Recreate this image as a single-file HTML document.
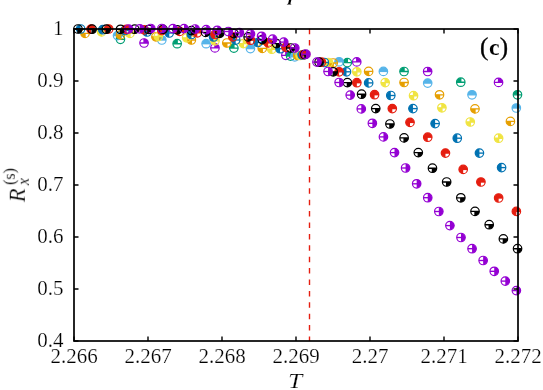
<!DOCTYPE html>
<html><head><meta charset="utf-8"><title>chart</title>
<style>
html,body{margin:0;padding:0;background:#fff;}
svg{display:block}
text{font-family:"Liberation Serif",serif;font-size:21px;fill:#000;stroke:#fff;stroke-width:0.22px}
</style></head><body>
<svg width="543" height="390" viewBox="0 0 543 390">
<rect width="543" height="390" fill="#fff"/>
<path d="M289.2 -1 L288.2 3.6 L286.6 4.4 L291.6 4.4 L290.4 3.6 L291.6 -1Z" fill="#000"/>
<line x1="309.5" y1="28.7" x2="309.5" y2="341.0" stroke="#e51e10" stroke-width="1.4" stroke-dasharray="5.5 5.9"/>
<g stroke="#9400d3" fill="none"><path d="M144.05 43.00L148.30 43.00A4.25 4.25 0 0 0 144.05 38.75Z" fill="#9400d3" stroke="none"/><circle cx="144.05" cy="43.00" r="4.25" stroke-width="1.2"/><path d="M139.80 43.00H148.30M144.05 43.00V38.75" stroke-width="1.35"/></g>
<g stroke="#9400d3" fill="none"><path d="M214.95 47.90L219.20 47.90A4.25 4.25 0 0 0 214.95 43.65Z" fill="#9400d3" stroke="none"/><circle cx="214.95" cy="47.90" r="4.25" stroke-width="1.2"/><path d="M210.70 47.90H219.20M214.95 47.90V43.65" stroke-width="1.35"/></g>
<g stroke="#9400d3" fill="none"><path d="M285.85 55.30L290.10 55.30A4.25 4.25 0 0 0 285.85 51.05Z" fill="#9400d3" stroke="none"/><circle cx="285.85" cy="55.30" r="4.25" stroke-width="1.2"/><path d="M281.60 55.30H290.10M285.85 55.30V51.05" stroke-width="1.35"/></g>
<g stroke="#9400d3" fill="none"><path d="M356.75 61.90L361.00 61.90A4.25 4.25 0 0 0 356.75 57.65Z" fill="#9400d3" stroke="none"/><circle cx="356.75" cy="61.90" r="4.25" stroke-width="1.2"/><path d="M352.50 61.90H361.00M356.75 61.90V57.65" stroke-width="1.35"/></g>
<g stroke="#9400d3" fill="none"><path d="M427.65 71.50L431.90 71.50A4.25 4.25 0 0 0 427.65 67.25Z" fill="#9400d3" stroke="none"/><circle cx="427.65" cy="71.50" r="4.25" stroke-width="1.2"/><path d="M423.40 71.50H431.90M427.65 71.50V67.25" stroke-width="1.35"/></g>
<g stroke="#9400d3" fill="none"><path d="M498.55 82.40L502.80 82.40A4.25 4.25 0 0 0 498.55 78.15Z" fill="#9400d3" stroke="none"/><circle cx="498.55" cy="82.40" r="4.25" stroke-width="1.2"/><path d="M494.30 82.40H502.80M498.55 82.40V78.15" stroke-width="1.35"/></g>
<g stroke="#009e73" fill="none"><path d="M120.44 39.30L120.44 35.05A4.25 4.25 0 0 0 116.19 39.30Z" fill="#009e73" stroke="none"/><circle cx="120.44" cy="39.30" r="4.25" stroke-width="1.2"/><path d="M116.19 39.30H124.69M120.44 39.30V35.05" stroke-width="1.35"/></g>
<g stroke="#009e73" fill="none"><path d="M177.16 43.70L177.16 39.45A4.25 4.25 0 0 0 172.91 43.70Z" fill="#009e73" stroke="none"/><circle cx="177.16" cy="43.70" r="4.25" stroke-width="1.2"/><path d="M172.91 43.70H181.41M177.16 43.70V39.45" stroke-width="1.35"/></g>
<g stroke="#009e73" fill="none"><path d="M233.88 48.10L233.88 43.85A4.25 4.25 0 0 0 229.63 48.10Z" fill="#009e73" stroke="none"/><circle cx="233.88" cy="48.10" r="4.25" stroke-width="1.2"/><path d="M229.63 48.10H238.13M233.88 48.10V43.85" stroke-width="1.35"/></g>
<g stroke="#009e73" fill="none"><path d="M290.60 56.10L290.60 51.85A4.25 4.25 0 0 0 286.35 56.10Z" fill="#009e73" stroke="none"/><circle cx="290.60" cy="56.10" r="4.25" stroke-width="1.2"/><path d="M286.35 56.10H294.85M290.60 56.10V51.85" stroke-width="1.35"/></g>
<g stroke="#009e73" fill="none"><path d="M347.32 62.60L347.32 58.35A4.25 4.25 0 0 0 343.07 62.60Z" fill="#009e73" stroke="none"/><circle cx="347.32" cy="62.60" r="4.25" stroke-width="1.2"/><path d="M343.07 62.60H351.57M347.32 62.60V58.35" stroke-width="1.35"/></g>
<g stroke="#009e73" fill="none"><path d="M404.04 71.50L404.04 67.25A4.25 4.25 0 0 0 399.79 71.50Z" fill="#009e73" stroke="none"/><circle cx="404.04" cy="71.50" r="4.25" stroke-width="1.2"/><path d="M399.79 71.50H408.29M404.04 71.50V67.25" stroke-width="1.35"/></g>
<g stroke="#009e73" fill="none"><path d="M460.76 82.20L460.76 77.95A4.25 4.25 0 0 0 456.51 82.20Z" fill="#009e73" stroke="none"/><circle cx="460.76" cy="82.20" r="4.25" stroke-width="1.2"/><path d="M456.51 82.20H465.01M460.76 82.20V77.95" stroke-width="1.35"/></g>
<g stroke="#009e73" fill="none"><path d="M517.48 94.80L517.48 90.55A4.25 4.25 0 0 0 513.23 94.80Z" fill="#009e73" stroke="none"/><circle cx="517.48" cy="94.80" r="4.25" stroke-width="1.2"/><path d="M513.23 94.80H521.73M517.48 94.80V90.55" stroke-width="1.35"/></g>
<g stroke="#56b4e9" fill="none"><path d="M117.51 35.60L121.76 35.60A4.25 4.25 0 0 0 117.51 31.35ZM117.51 35.60L117.51 31.35A4.25 4.25 0 0 0 113.26 35.60Z" fill="#56b4e9" stroke="none"/><circle cx="117.51" cy="35.60" r="4.25" stroke-width="1.2"/><path d="M113.26 35.60H121.76" stroke-width="1.35"/></g>
<g stroke="#56b4e9" fill="none"><path d="M161.82 40.00L166.07 40.00A4.25 4.25 0 0 0 161.82 35.75ZM161.82 40.00L161.82 35.75A4.25 4.25 0 0 0 157.57 40.00Z" fill="#56b4e9" stroke="none"/><circle cx="161.82" cy="40.00" r="4.25" stroke-width="1.2"/><path d="M157.57 40.00H166.07" stroke-width="1.35"/></g>
<g stroke="#56b4e9" fill="none"><path d="M206.13 43.70L210.38 43.70A4.25 4.25 0 0 0 206.13 39.45ZM206.13 43.70L206.13 39.45A4.25 4.25 0 0 0 201.88 43.70Z" fill="#56b4e9" stroke="none"/><circle cx="206.13" cy="43.70" r="4.25" stroke-width="1.2"/><path d="M201.88 43.70H210.38" stroke-width="1.35"/></g>
<g stroke="#56b4e9" fill="none"><path d="M250.44 48.60L254.69 48.60A4.25 4.25 0 0 0 250.44 44.35ZM250.44 48.60L250.44 44.35A4.25 4.25 0 0 0 246.19 48.60Z" fill="#56b4e9" stroke="none"/><circle cx="250.44" cy="48.60" r="4.25" stroke-width="1.2"/><path d="M246.19 48.60H254.69" stroke-width="1.35"/></g>
<g stroke="#56b4e9" fill="none"><path d="M294.76 56.80L299.01 56.80A4.25 4.25 0 0 0 294.76 52.55ZM294.76 56.80L294.76 52.55A4.25 4.25 0 0 0 290.51 56.80Z" fill="#56b4e9" stroke="none"/><circle cx="294.76" cy="56.80" r="4.25" stroke-width="1.2"/><path d="M290.51 56.80H299.01" stroke-width="1.35"/></g>
<g stroke="#56b4e9" fill="none"><path d="M339.07 61.80L343.32 61.80A4.25 4.25 0 0 0 339.07 57.55ZM339.07 61.80L339.07 57.55A4.25 4.25 0 0 0 334.82 61.80Z" fill="#56b4e9" stroke="none"/><circle cx="339.07" cy="61.80" r="4.25" stroke-width="1.2"/><path d="M334.82 61.80H343.32" stroke-width="1.35"/></g>
<g stroke="#56b4e9" fill="none"><path d="M383.38 71.40L387.63 71.40A4.25 4.25 0 0 0 383.38 67.15ZM383.38 71.40L383.38 67.15A4.25 4.25 0 0 0 379.13 71.40Z" fill="#56b4e9" stroke="none"/><circle cx="383.38" cy="71.40" r="4.25" stroke-width="1.2"/><path d="M379.13 71.40H387.63" stroke-width="1.35"/></g>
<g stroke="#56b4e9" fill="none"><path d="M427.69 83.10L431.94 83.10A4.25 4.25 0 0 0 427.69 78.85ZM427.69 83.10L427.69 78.85A4.25 4.25 0 0 0 423.44 83.10Z" fill="#56b4e9" stroke="none"/><circle cx="427.69" cy="83.10" r="4.25" stroke-width="1.2"/><path d="M423.44 83.10H431.94" stroke-width="1.35"/></g>
<g stroke="#56b4e9" fill="none"><path d="M472.01 94.80L476.26 94.80A4.25 4.25 0 0 0 472.01 90.55ZM472.01 94.80L472.01 90.55A4.25 4.25 0 0 0 467.76 94.80Z" fill="#56b4e9" stroke="none"/><circle cx="472.01" cy="94.80" r="4.25" stroke-width="1.2"/><path d="M467.76 94.80H476.26" stroke-width="1.35"/></g>
<g stroke="#56b4e9" fill="none"><path d="M516.32 108.00L520.57 108.00A4.25 4.25 0 0 0 516.32 103.75ZM516.32 108.00L516.32 103.75A4.25 4.25 0 0 0 512.07 108.00Z" fill="#56b4e9" stroke="none"/><circle cx="516.32" cy="108.00" r="4.25" stroke-width="1.2"/><path d="M512.07 108.00H520.57" stroke-width="1.35"/></g>
<g stroke="#e69f00" fill="none"><path d="M85.02 33.40L80.77 33.40A4.25 4.25 0 0 0 85.02 37.65Z" fill="#e69f00" stroke="none"/><circle cx="85.02" cy="33.40" r="4.25" stroke-width="1.2"/><path d="M80.77 33.40H89.27M85.02 33.40V37.65" stroke-width="1.35"/></g>
<g stroke="#e69f00" fill="none"><path d="M120.47 34.90L116.22 34.90A4.25 4.25 0 0 0 120.47 39.15Z" fill="#e69f00" stroke="none"/><circle cx="120.47" cy="34.90" r="4.25" stroke-width="1.2"/><path d="M116.22 34.90H124.72M120.47 34.90V39.15" stroke-width="1.35"/></g>
<g stroke="#e69f00" fill="none"><path d="M155.92 36.80L151.67 36.80A4.25 4.25 0 0 0 155.92 41.05Z" fill="#e69f00" stroke="none"/><circle cx="155.92" cy="36.80" r="4.25" stroke-width="1.2"/><path d="M151.67 36.80H160.17M155.92 36.80V41.05" stroke-width="1.35"/></g>
<g stroke="#e69f00" fill="none"><path d="M191.37 40.00L187.12 40.00A4.25 4.25 0 0 0 191.37 44.25Z" fill="#e69f00" stroke="none"/><circle cx="191.37" cy="40.00" r="4.25" stroke-width="1.2"/><path d="M187.12 40.00H195.62M191.37 40.00V44.25" stroke-width="1.35"/></g>
<g stroke="#e69f00" fill="none"><path d="M226.82 43.00L222.57 43.00A4.25 4.25 0 0 0 226.82 47.25Z" fill="#e69f00" stroke="none"/><circle cx="226.82" cy="43.00" r="4.25" stroke-width="1.2"/><path d="M222.57 43.00H231.07M226.82 43.00V47.25" stroke-width="1.35"/></g>
<g stroke="#e69f00" fill="none"><path d="M262.27 48.40L258.02 48.40A4.25 4.25 0 0 0 262.27 52.65Z" fill="#e69f00" stroke="none"/><circle cx="262.27" cy="48.40" r="4.25" stroke-width="1.2"/><path d="M258.02 48.40H266.52M262.27 48.40V52.65" stroke-width="1.35"/></g>
<g stroke="#e69f00" fill="none"><path d="M297.72 55.50L293.47 55.50A4.25 4.25 0 0 0 297.72 59.75Z" fill="#e69f00" stroke="none"/><circle cx="297.72" cy="55.50" r="4.25" stroke-width="1.2"/><path d="M293.47 55.50H301.97M297.72 55.50V59.75" stroke-width="1.35"/></g>
<g stroke="#e69f00" fill="none"><path d="M333.17 63.00L328.92 63.00A4.25 4.25 0 0 0 333.17 67.25Z" fill="#e69f00" stroke="none"/><circle cx="333.17" cy="63.00" r="4.25" stroke-width="1.2"/><path d="M328.92 63.00H337.42M333.17 63.00V67.25" stroke-width="1.35"/></g>
<g stroke="#e69f00" fill="none"><path d="M368.62 71.40L364.37 71.40A4.25 4.25 0 0 0 368.62 75.65Z" fill="#e69f00" stroke="none"/><circle cx="368.62" cy="71.40" r="4.25" stroke-width="1.2"/><path d="M364.37 71.40H372.87M368.62 71.40V75.65" stroke-width="1.35"/></g>
<g stroke="#e69f00" fill="none"><path d="M404.07 82.50L399.82 82.50A4.25 4.25 0 0 0 404.07 86.75Z" fill="#e69f00" stroke="none"/><circle cx="404.07" cy="82.50" r="4.25" stroke-width="1.2"/><path d="M399.82 82.50H408.32M404.07 82.50V86.75" stroke-width="1.35"/></g>
<g stroke="#e69f00" fill="none"><path d="M439.52 94.80L435.27 94.80A4.25 4.25 0 0 0 439.52 99.05Z" fill="#e69f00" stroke="none"/><circle cx="439.52" cy="94.80" r="4.25" stroke-width="1.2"/><path d="M435.27 94.80H443.77M439.52 94.80V99.05" stroke-width="1.35"/></g>
<g stroke="#e69f00" fill="none"><path d="M474.97 108.90L470.72 108.90A4.25 4.25 0 0 0 474.97 113.15Z" fill="#e69f00" stroke="none"/><circle cx="474.97" cy="108.90" r="4.25" stroke-width="1.2"/><path d="M470.72 108.90H479.22M474.97 108.90V113.15" stroke-width="1.35"/></g>
<g stroke="#e69f00" fill="none"><path d="M510.42 121.40L506.17 121.40A4.25 4.25 0 0 0 510.42 125.65Z" fill="#e69f00" stroke="none"/><circle cx="510.42" cy="121.40" r="4.25" stroke-width="1.2"/><path d="M506.17 121.40H514.67M510.42 121.40V125.65" stroke-width="1.35"/></g>
<g stroke="#f0e442" fill="none"><path d="M101.58 31.90L105.83 31.90A4.25 4.25 0 0 0 101.58 27.65ZM101.58 31.90L97.33 31.90A4.25 4.25 0 0 0 101.58 36.15Z" fill="#f0e442" stroke="none"/><circle cx="101.58" cy="31.90" r="4.25" stroke-width="1.2"/><path d="M97.33 31.90H105.83M101.58 31.90V27.65M101.58 31.90V36.15" stroke-width="1.35"/></g>
<g stroke="#f0e442" fill="none"><path d="M129.94 33.40L134.19 33.40A4.25 4.25 0 0 0 129.94 29.15ZM129.94 33.40L125.69 33.40A4.25 4.25 0 0 0 129.94 37.65Z" fill="#f0e442" stroke="none"/><circle cx="129.94" cy="33.40" r="4.25" stroke-width="1.2"/><path d="M125.69 33.40H134.19M129.94 33.40V29.15M129.94 33.40V37.65" stroke-width="1.35"/></g>
<g stroke="#f0e442" fill="none"><path d="M158.30 36.50L162.55 36.50A4.25 4.25 0 0 0 158.30 32.25ZM158.30 36.50L154.05 36.50A4.25 4.25 0 0 0 158.30 40.75Z" fill="#f0e442" stroke="none"/><circle cx="158.30" cy="36.50" r="4.25" stroke-width="1.2"/><path d="M154.05 36.50H162.55M158.30 36.50V32.25M158.30 36.50V40.75" stroke-width="1.35"/></g>
<g stroke="#f0e442" fill="none"><path d="M186.66 37.80L190.91 37.80A4.25 4.25 0 0 0 186.66 33.55ZM186.66 37.80L182.41 37.80A4.25 4.25 0 0 0 186.66 42.05Z" fill="#f0e442" stroke="none"/><circle cx="186.66" cy="37.80" r="4.25" stroke-width="1.2"/><path d="M182.41 37.80H190.91M186.66 37.80V33.55M186.66 37.80V42.05" stroke-width="1.35"/></g>
<g stroke="#f0e442" fill="none"><path d="M215.02 40.80L219.27 40.80A4.25 4.25 0 0 0 215.02 36.55ZM215.02 40.80L210.77 40.80A4.25 4.25 0 0 0 215.02 45.05Z" fill="#f0e442" stroke="none"/><circle cx="215.02" cy="40.80" r="4.25" stroke-width="1.2"/><path d="M210.77 40.80H219.27M215.02 40.80V36.55M215.02 40.80V45.05" stroke-width="1.35"/></g>
<g stroke="#f0e442" fill="none"><path d="M243.38 43.60L247.63 43.60A4.25 4.25 0 0 0 243.38 39.35ZM243.38 43.60L239.13 43.60A4.25 4.25 0 0 0 243.38 47.85Z" fill="#f0e442" stroke="none"/><circle cx="243.38" cy="43.60" r="4.25" stroke-width="1.2"/><path d="M239.13 43.60H247.63M243.38 43.60V39.35M243.38 43.60V47.85" stroke-width="1.35"/></g>
<g stroke="#f0e442" fill="none"><path d="M271.74 49.20L275.99 49.20A4.25 4.25 0 0 0 271.74 44.95ZM271.74 49.20L267.49 49.20A4.25 4.25 0 0 0 271.74 53.45Z" fill="#f0e442" stroke="none"/><circle cx="271.74" cy="49.20" r="4.25" stroke-width="1.2"/><path d="M267.49 49.20H275.99M271.74 49.20V44.95M271.74 49.20V53.45" stroke-width="1.35"/></g>
<g stroke="#f0e442" fill="none"><path d="M300.10 55.50L304.35 55.50A4.25 4.25 0 0 0 300.10 51.25ZM300.10 55.50L295.85 55.50A4.25 4.25 0 0 0 300.10 59.75Z" fill="#f0e442" stroke="none"/><circle cx="300.10" cy="55.50" r="4.25" stroke-width="1.2"/><path d="M295.85 55.50H304.35M300.10 55.50V51.25M300.10 55.50V59.75" stroke-width="1.35"/></g>
<g stroke="#f0e442" fill="none"><path d="M328.46 62.50L332.71 62.50A4.25 4.25 0 0 0 328.46 58.25ZM328.46 62.50L324.21 62.50A4.25 4.25 0 0 0 328.46 66.75Z" fill="#f0e442" stroke="none"/><circle cx="328.46" cy="62.50" r="4.25" stroke-width="1.2"/><path d="M324.21 62.50H332.71M328.46 62.50V58.25M328.46 62.50V66.75" stroke-width="1.35"/></g>
<g stroke="#f0e442" fill="none"><path d="M356.82 71.80L361.07 71.80A4.25 4.25 0 0 0 356.82 67.55ZM356.82 71.80L352.57 71.80A4.25 4.25 0 0 0 356.82 76.05Z" fill="#f0e442" stroke="none"/><circle cx="356.82" cy="71.80" r="4.25" stroke-width="1.2"/><path d="M352.57 71.80H361.07M356.82 71.80V67.55M356.82 71.80V76.05" stroke-width="1.35"/></g>
<g stroke="#f0e442" fill="none"><path d="M385.18 82.60L389.43 82.60A4.25 4.25 0 0 0 385.18 78.35ZM385.18 82.60L380.93 82.60A4.25 4.25 0 0 0 385.18 86.85Z" fill="#f0e442" stroke="none"/><circle cx="385.18" cy="82.60" r="4.25" stroke-width="1.2"/><path d="M380.93 82.60H389.43M385.18 82.60V78.35M385.18 82.60V86.85" stroke-width="1.35"/></g>
<g stroke="#f0e442" fill="none"><path d="M413.54 95.70L417.79 95.70A4.25 4.25 0 0 0 413.54 91.45ZM413.54 95.70L409.29 95.70A4.25 4.25 0 0 0 413.54 99.95Z" fill="#f0e442" stroke="none"/><circle cx="413.54" cy="95.70" r="4.25" stroke-width="1.2"/><path d="M409.29 95.70H417.79M413.54 95.70V91.45M413.54 95.70V99.95" stroke-width="1.35"/></g>
<g stroke="#f0e442" fill="none"><path d="M441.90 107.80L446.15 107.80A4.25 4.25 0 0 0 441.90 103.55ZM441.90 107.80L437.65 107.80A4.25 4.25 0 0 0 441.90 112.05Z" fill="#f0e442" stroke="none"/><circle cx="441.90" cy="107.80" r="4.25" stroke-width="1.2"/><path d="M437.65 107.80H446.15M441.90 107.80V103.55M441.90 107.80V112.05" stroke-width="1.35"/></g>
<g stroke="#f0e442" fill="none"><path d="M470.26 122.00L474.51 122.00A4.25 4.25 0 0 0 470.26 117.75ZM470.26 122.00L466.01 122.00A4.25 4.25 0 0 0 470.26 126.25Z" fill="#f0e442" stroke="none"/><circle cx="470.26" cy="122.00" r="4.25" stroke-width="1.2"/><path d="M466.01 122.00H474.51M470.26 122.00V117.75M470.26 122.00V126.25" stroke-width="1.35"/></g>
<g stroke="#f0e442" fill="none"><path d="M498.62 138.20L502.87 138.20A4.25 4.25 0 0 0 498.62 133.95ZM498.62 138.20L494.37 138.20A4.25 4.25 0 0 0 498.62 142.45Z" fill="#f0e442" stroke="none"/><circle cx="498.62" cy="138.20" r="4.25" stroke-width="1.2"/><path d="M494.37 138.20H502.87M498.62 138.20V133.95M498.62 138.20V142.45" stroke-width="1.35"/></g>
<g stroke="#0072b2" fill="none"><path d="M80.62 29.00L80.62 24.75A4.25 4.25 0 0 0 76.37 29.00ZM80.62 29.00L76.37 29.00A4.25 4.25 0 0 0 80.62 33.25Z" fill="#0072b2" stroke="none"/><circle cx="80.62" cy="29.00" r="4.25" stroke-width="1.2"/><path d="M76.37 29.00H84.87" stroke-width="1.35"/></g>
<g stroke="#0072b2" fill="none"><path d="M102.77 29.70L102.77 25.45A4.25 4.25 0 0 0 98.52 29.70ZM102.77 29.70L98.52 29.70A4.25 4.25 0 0 0 102.77 33.95Z" fill="#0072b2" stroke="none"/><circle cx="102.77" cy="29.70" r="4.25" stroke-width="1.2"/><path d="M98.52 29.70H107.02" stroke-width="1.35"/></g>
<g stroke="#0072b2" fill="none"><path d="M124.93 30.50L124.93 26.25A4.25 4.25 0 0 0 120.68 30.50ZM124.93 30.50L120.68 30.50A4.25 4.25 0 0 0 124.93 34.75Z" fill="#0072b2" stroke="none"/><circle cx="124.93" cy="30.50" r="4.25" stroke-width="1.2"/><path d="M120.68 30.50H129.18" stroke-width="1.35"/></g>
<g stroke="#0072b2" fill="none"><path d="M147.08 32.00L147.08 27.75A4.25 4.25 0 0 0 142.83 32.00ZM147.08 32.00L142.83 32.00A4.25 4.25 0 0 0 147.08 36.25Z" fill="#0072b2" stroke="none"/><circle cx="147.08" cy="32.00" r="4.25" stroke-width="1.2"/><path d="M142.83 32.00H151.33" stroke-width="1.35"/></g>
<g stroke="#0072b2" fill="none"><path d="M169.24 33.00L169.24 28.75A4.25 4.25 0 0 0 164.99 33.00ZM169.24 33.00L164.99 33.00A4.25 4.25 0 0 0 169.24 37.25Z" fill="#0072b2" stroke="none"/><circle cx="169.24" cy="33.00" r="4.25" stroke-width="1.2"/><path d="M164.99 33.00H173.49" stroke-width="1.35"/></g>
<g stroke="#0072b2" fill="none"><path d="M191.40 34.50L191.40 30.25A4.25 4.25 0 0 0 187.15 34.50ZM191.40 34.50L187.15 34.50A4.25 4.25 0 0 0 191.40 38.75Z" fill="#0072b2" stroke="none"/><circle cx="191.40" cy="34.50" r="4.25" stroke-width="1.2"/><path d="M187.15 34.50H195.65" stroke-width="1.35"/></g>
<g stroke="#0072b2" fill="none"><path d="M213.55 37.00L213.55 32.75A4.25 4.25 0 0 0 209.30 37.00ZM213.55 37.00L209.30 37.00A4.25 4.25 0 0 0 213.55 41.25Z" fill="#0072b2" stroke="none"/><circle cx="213.55" cy="37.00" r="4.25" stroke-width="1.2"/><path d="M209.30 37.00H217.80" stroke-width="1.35"/></g>
<g stroke="#0072b2" fill="none"><path d="M235.71 40.00L235.71 35.75A4.25 4.25 0 0 0 231.46 40.00ZM235.71 40.00L231.46 40.00A4.25 4.25 0 0 0 235.71 44.25Z" fill="#0072b2" stroke="none"/><circle cx="235.71" cy="40.00" r="4.25" stroke-width="1.2"/><path d="M231.46 40.00H239.96" stroke-width="1.35"/></g>
<g stroke="#0072b2" fill="none"><path d="M257.87 42.50L257.87 38.25A4.25 4.25 0 0 0 253.62 42.50ZM257.87 42.50L253.62 42.50A4.25 4.25 0 0 0 257.87 46.75Z" fill="#0072b2" stroke="none"/><circle cx="257.87" cy="42.50" r="4.25" stroke-width="1.2"/><path d="M253.62 42.50H262.12" stroke-width="1.35"/></g>
<g stroke="#0072b2" fill="none"><path d="M280.02 48.70L280.02 44.45A4.25 4.25 0 0 0 275.77 48.70ZM280.02 48.70L275.77 48.70A4.25 4.25 0 0 0 280.02 52.95Z" fill="#0072b2" stroke="none"/><circle cx="280.02" cy="48.70" r="4.25" stroke-width="1.2"/><path d="M275.77 48.70H284.27" stroke-width="1.35"/></g>
<g stroke="#0072b2" fill="none"><path d="M302.18 55.00L302.18 50.75A4.25 4.25 0 0 0 297.93 55.00ZM302.18 55.00L297.93 55.00A4.25 4.25 0 0 0 302.18 59.25Z" fill="#0072b2" stroke="none"/><circle cx="302.18" cy="55.00" r="4.25" stroke-width="1.2"/><path d="M297.93 55.00H306.43" stroke-width="1.35"/></g>
<g stroke="#0072b2" fill="none"><path d="M324.33 62.50L324.33 58.25A4.25 4.25 0 0 0 320.08 62.50ZM324.33 62.50L320.08 62.50A4.25 4.25 0 0 0 324.33 66.75Z" fill="#0072b2" stroke="none"/><circle cx="324.33" cy="62.50" r="4.25" stroke-width="1.2"/><path d="M320.08 62.50H328.58" stroke-width="1.35"/></g>
<g stroke="#0072b2" fill="none"><path d="M346.49 71.80L346.49 67.55A4.25 4.25 0 0 0 342.24 71.80ZM346.49 71.80L342.24 71.80A4.25 4.25 0 0 0 346.49 76.05Z" fill="#0072b2" stroke="none"/><circle cx="346.49" cy="71.80" r="4.25" stroke-width="1.2"/><path d="M342.24 71.80H350.74" stroke-width="1.35"/></g>
<g stroke="#0072b2" fill="none"><path d="M368.65 82.90L368.65 78.65A4.25 4.25 0 0 0 364.40 82.90ZM368.65 82.90L364.40 82.90A4.25 4.25 0 0 0 368.65 87.15Z" fill="#0072b2" stroke="none"/><circle cx="368.65" cy="82.90" r="4.25" stroke-width="1.2"/><path d="M364.40 82.90H372.90" stroke-width="1.35"/></g>
<g stroke="#0072b2" fill="none"><path d="M390.80 95.50L390.80 91.25A4.25 4.25 0 0 0 386.55 95.50ZM390.80 95.50L386.55 95.50A4.25 4.25 0 0 0 390.80 99.75Z" fill="#0072b2" stroke="none"/><circle cx="390.80" cy="95.50" r="4.25" stroke-width="1.2"/><path d="M386.55 95.50H395.05" stroke-width="1.35"/></g>
<g stroke="#0072b2" fill="none"><path d="M412.96 108.60L412.96 104.35A4.25 4.25 0 0 0 408.71 108.60ZM412.96 108.60L408.71 108.60A4.25 4.25 0 0 0 412.96 112.85Z" fill="#0072b2" stroke="none"/><circle cx="412.96" cy="108.60" r="4.25" stroke-width="1.2"/><path d="M408.71 108.60H417.21" stroke-width="1.35"/></g>
<g stroke="#0072b2" fill="none"><path d="M435.12 123.60L435.12 119.35A4.25 4.25 0 0 0 430.87 123.60ZM435.12 123.60L430.87 123.60A4.25 4.25 0 0 0 435.12 127.85Z" fill="#0072b2" stroke="none"/><circle cx="435.12" cy="123.60" r="4.25" stroke-width="1.2"/><path d="M430.87 123.60H439.37" stroke-width="1.35"/></g>
<g stroke="#0072b2" fill="none"><path d="M457.27 138.20L457.27 133.95A4.25 4.25 0 0 0 453.02 138.20ZM457.27 138.20L453.02 138.20A4.25 4.25 0 0 0 457.27 142.45Z" fill="#0072b2" stroke="none"/><circle cx="457.27" cy="138.20" r="4.25" stroke-width="1.2"/><path d="M453.02 138.20H461.52" stroke-width="1.35"/></g>
<g stroke="#0072b2" fill="none"><path d="M479.43 153.10L479.43 148.85A4.25 4.25 0 0 0 475.18 153.10ZM479.43 153.10L475.18 153.10A4.25 4.25 0 0 0 479.43 157.35Z" fill="#0072b2" stroke="none"/><circle cx="479.43" cy="153.10" r="4.25" stroke-width="1.2"/><path d="M475.18 153.10H483.68" stroke-width="1.35"/></g>
<g stroke="#0072b2" fill="none"><path d="M501.58 167.60L501.58 163.35A4.25 4.25 0 0 0 497.33 167.60ZM501.58 167.60L497.33 167.60A4.25 4.25 0 0 0 501.58 171.85Z" fill="#0072b2" stroke="none"/><circle cx="501.58" cy="167.60" r="4.25" stroke-width="1.2"/><path d="M497.33 167.60H505.83" stroke-width="1.35"/></g>
<g stroke="#e51e10" fill="none"><path d="M90.96 29.10L95.21 29.10A4.25 4.25 0 0 0 90.96 24.85ZM90.96 29.10L90.96 24.85A4.25 4.25 0 0 0 86.71 29.10ZM90.96 29.10L86.71 29.10A4.25 4.25 0 0 0 90.96 33.35Z" fill="#e51e10" stroke="none"/><circle cx="90.96" cy="29.10" r="4.25" stroke-width="1.2"/><path d="M86.71 29.10H95.21" stroke-width="1.35"/></g>
<g stroke="#e51e10" fill="none"><path d="M108.69 29.00L112.94 29.00A4.25 4.25 0 0 0 108.69 24.75ZM108.69 29.00L108.69 24.75A4.25 4.25 0 0 0 104.44 29.00ZM108.69 29.00L104.44 29.00A4.25 4.25 0 0 0 108.69 33.25Z" fill="#e51e10" stroke="none"/><circle cx="108.69" cy="29.00" r="4.25" stroke-width="1.2"/><path d="M104.44 29.00H112.94" stroke-width="1.35"/></g>
<g stroke="#e51e10" fill="none"><path d="M126.41 29.30L130.66 29.30A4.25 4.25 0 0 0 126.41 25.05ZM126.41 29.30L126.41 25.05A4.25 4.25 0 0 0 122.16 29.30ZM126.41 29.30L122.16 29.30A4.25 4.25 0 0 0 126.41 33.55Z" fill="#e51e10" stroke="none"/><circle cx="126.41" cy="29.30" r="4.25" stroke-width="1.2"/><path d="M122.16 29.30H130.66" stroke-width="1.35"/></g>
<g stroke="#e51e10" fill="none"><path d="M144.14 29.90L148.39 29.90A4.25 4.25 0 0 0 144.14 25.65ZM144.14 29.90L144.14 25.65A4.25 4.25 0 0 0 139.89 29.90ZM144.14 29.90L139.89 29.90A4.25 4.25 0 0 0 144.14 34.15Z" fill="#e51e10" stroke="none"/><circle cx="144.14" cy="29.90" r="4.25" stroke-width="1.2"/><path d="M139.89 29.90H148.39" stroke-width="1.35"/></g>
<g stroke="#e51e10" fill="none"><path d="M161.86 30.50L166.11 30.50A4.25 4.25 0 0 0 161.86 26.25ZM161.86 30.50L161.86 26.25A4.25 4.25 0 0 0 157.61 30.50ZM161.86 30.50L157.61 30.50A4.25 4.25 0 0 0 161.86 34.75Z" fill="#e51e10" stroke="none"/><circle cx="161.86" cy="30.50" r="4.25" stroke-width="1.2"/><path d="M157.61 30.50H166.11" stroke-width="1.35"/></g>
<g stroke="#e51e10" fill="none"><path d="M179.59 31.40L183.84 31.40A4.25 4.25 0 0 0 179.59 27.15ZM179.59 31.40L179.59 27.15A4.25 4.25 0 0 0 175.34 31.40ZM179.59 31.40L175.34 31.40A4.25 4.25 0 0 0 179.59 35.65Z" fill="#e51e10" stroke="none"/><circle cx="179.59" cy="31.40" r="4.25" stroke-width="1.2"/><path d="M175.34 31.40H183.84" stroke-width="1.35"/></g>
<g stroke="#e51e10" fill="none"><path d="M197.31 32.80L201.56 32.80A4.25 4.25 0 0 0 197.31 28.55ZM197.31 32.80L197.31 28.55A4.25 4.25 0 0 0 193.06 32.80ZM197.31 32.80L193.06 32.80A4.25 4.25 0 0 0 197.31 37.05Z" fill="#e51e10" stroke="none"/><circle cx="197.31" cy="32.80" r="4.25" stroke-width="1.2"/><path d="M193.06 32.80H201.56" stroke-width="1.35"/></g>
<g stroke="#e51e10" fill="none"><path d="M215.04 34.50L219.29 34.50A4.25 4.25 0 0 0 215.04 30.25ZM215.04 34.50L215.04 30.25A4.25 4.25 0 0 0 210.79 34.50ZM215.04 34.50L210.79 34.50A4.25 4.25 0 0 0 215.04 38.75Z" fill="#e51e10" stroke="none"/><circle cx="215.04" cy="34.50" r="4.25" stroke-width="1.2"/><path d="M210.79 34.50H219.29" stroke-width="1.35"/></g>
<g stroke="#e51e10" fill="none"><path d="M232.76 36.80L237.01 36.80A4.25 4.25 0 0 0 232.76 32.55ZM232.76 36.80L232.76 32.55A4.25 4.25 0 0 0 228.51 36.80ZM232.76 36.80L228.51 36.80A4.25 4.25 0 0 0 232.76 41.05Z" fill="#e51e10" stroke="none"/><circle cx="232.76" cy="36.80" r="4.25" stroke-width="1.2"/><path d="M228.51 36.80H237.01" stroke-width="1.35"/></g>
<g stroke="#e51e10" fill="none"><path d="M250.49 40.20L254.74 40.20A4.25 4.25 0 0 0 250.49 35.95ZM250.49 40.20L250.49 35.95A4.25 4.25 0 0 0 246.24 40.20ZM250.49 40.20L246.24 40.20A4.25 4.25 0 0 0 250.49 44.45Z" fill="#e51e10" stroke="none"/><circle cx="250.49" cy="40.20" r="4.25" stroke-width="1.2"/><path d="M246.24 40.20H254.74" stroke-width="1.35"/></g>
<g stroke="#e51e10" fill="none"><path d="M268.21 42.90L272.46 42.90A4.25 4.25 0 0 0 268.21 38.65ZM268.21 42.90L268.21 38.65A4.25 4.25 0 0 0 263.96 42.90ZM268.21 42.90L263.96 42.90A4.25 4.25 0 0 0 268.21 47.15Z" fill="#e51e10" stroke="none"/><circle cx="268.21" cy="42.90" r="4.25" stroke-width="1.2"/><path d="M263.96 42.90H272.46" stroke-width="1.35"/></g>
<g stroke="#e51e10" fill="none"><path d="M285.94 47.20L290.19 47.20A4.25 4.25 0 0 0 285.94 42.95ZM285.94 47.20L285.94 42.95A4.25 4.25 0 0 0 281.69 47.20ZM285.94 47.20L281.69 47.20A4.25 4.25 0 0 0 285.94 51.45Z" fill="#e51e10" stroke="none"/><circle cx="285.94" cy="47.20" r="4.25" stroke-width="1.2"/><path d="M281.69 47.20H290.19" stroke-width="1.35"/></g>
<g stroke="#e51e10" fill="none"><path d="M303.66 54.50L307.91 54.50A4.25 4.25 0 0 0 303.66 50.25ZM303.66 54.50L303.66 50.25A4.25 4.25 0 0 0 299.41 54.50ZM303.66 54.50L299.41 54.50A4.25 4.25 0 0 0 303.66 58.75Z" fill="#e51e10" stroke="none"/><circle cx="303.66" cy="54.50" r="4.25" stroke-width="1.2"/><path d="M299.41 54.50H307.91" stroke-width="1.35"/></g>
<g stroke="#e51e10" fill="none"><path d="M321.39 62.20L325.64 62.20A4.25 4.25 0 0 0 321.39 57.95ZM321.39 62.20L321.39 57.95A4.25 4.25 0 0 0 317.14 62.20ZM321.39 62.20L317.14 62.20A4.25 4.25 0 0 0 321.39 66.45Z" fill="#e51e10" stroke="none"/><circle cx="321.39" cy="62.20" r="4.25" stroke-width="1.2"/><path d="M317.14 62.20H325.64" stroke-width="1.35"/></g>
<g stroke="#e51e10" fill="none"><path d="M339.11 71.80L343.36 71.80A4.25 4.25 0 0 0 339.11 67.55ZM339.11 71.80L339.11 67.55A4.25 4.25 0 0 0 334.86 71.80ZM339.11 71.80L334.86 71.80A4.25 4.25 0 0 0 339.11 76.05Z" fill="#e51e10" stroke="none"/><circle cx="339.11" cy="71.80" r="4.25" stroke-width="1.2"/><path d="M334.86 71.80H343.36" stroke-width="1.35"/></g>
<g stroke="#e51e10" fill="none"><path d="M356.84 82.70L361.09 82.70A4.25 4.25 0 0 0 356.84 78.45ZM356.84 82.70L356.84 78.45A4.25 4.25 0 0 0 352.59 82.70ZM356.84 82.70L352.59 82.70A4.25 4.25 0 0 0 356.84 86.95Z" fill="#e51e10" stroke="none"/><circle cx="356.84" cy="82.70" r="4.25" stroke-width="1.2"/><path d="M352.59 82.70H361.09" stroke-width="1.35"/></g>
<g stroke="#e51e10" fill="none"><path d="M374.56 94.70L378.81 94.70A4.25 4.25 0 0 0 374.56 90.45ZM374.56 94.70L374.56 90.45A4.25 4.25 0 0 0 370.31 94.70ZM374.56 94.70L370.31 94.70A4.25 4.25 0 0 0 374.56 98.95Z" fill="#e51e10" stroke="none"/><circle cx="374.56" cy="94.70" r="4.25" stroke-width="1.2"/><path d="M370.31 94.70H378.81" stroke-width="1.35"/></g>
<g stroke="#e51e10" fill="none"><path d="M392.29 108.60L396.54 108.60A4.25 4.25 0 0 0 392.29 104.35ZM392.29 108.60L392.29 104.35A4.25 4.25 0 0 0 388.04 108.60ZM392.29 108.60L388.04 108.60A4.25 4.25 0 0 0 392.29 112.85Z" fill="#e51e10" stroke="none"/><circle cx="392.29" cy="108.60" r="4.25" stroke-width="1.2"/><path d="M388.04 108.60H396.54" stroke-width="1.35"/></g>
<g stroke="#e51e10" fill="none"><path d="M410.01 122.40L414.26 122.40A4.25 4.25 0 0 0 410.01 118.15ZM410.01 122.40L410.01 118.15A4.25 4.25 0 0 0 405.76 122.40ZM410.01 122.40L405.76 122.40A4.25 4.25 0 0 0 410.01 126.65Z" fill="#e51e10" stroke="none"/><circle cx="410.01" cy="122.40" r="4.25" stroke-width="1.2"/><path d="M405.76 122.40H414.26" stroke-width="1.35"/></g>
<g stroke="#e51e10" fill="none"><path d="M427.74 137.20L431.99 137.20A4.25 4.25 0 0 0 427.74 132.95ZM427.74 137.20L427.74 132.95A4.25 4.25 0 0 0 423.49 137.20ZM427.74 137.20L423.49 137.20A4.25 4.25 0 0 0 427.74 141.45Z" fill="#e51e10" stroke="none"/><circle cx="427.74" cy="137.20" r="4.25" stroke-width="1.2"/><path d="M423.49 137.20H431.99" stroke-width="1.35"/></g>
<g stroke="#e51e10" fill="none"><path d="M445.46 153.10L449.71 153.10A4.25 4.25 0 0 0 445.46 148.85ZM445.46 153.10L445.46 148.85A4.25 4.25 0 0 0 441.21 153.10ZM445.46 153.10L441.21 153.10A4.25 4.25 0 0 0 445.46 157.35Z" fill="#e51e10" stroke="none"/><circle cx="445.46" cy="153.10" r="4.25" stroke-width="1.2"/><path d="M441.21 153.10H449.71" stroke-width="1.35"/></g>
<g stroke="#e51e10" fill="none"><path d="M463.19 169.40L467.44 169.40A4.25 4.25 0 0 0 463.19 165.15ZM463.19 169.40L463.19 165.15A4.25 4.25 0 0 0 458.94 169.40ZM463.19 169.40L458.94 169.40A4.25 4.25 0 0 0 463.19 173.65Z" fill="#e51e10" stroke="none"/><circle cx="463.19" cy="169.40" r="4.25" stroke-width="1.2"/><path d="M458.94 169.40H467.44" stroke-width="1.35"/></g>
<g stroke="#e51e10" fill="none"><path d="M480.91 182.00L485.16 182.00A4.25 4.25 0 0 0 480.91 177.75ZM480.91 182.00L480.91 177.75A4.25 4.25 0 0 0 476.66 182.00ZM480.91 182.00L476.66 182.00A4.25 4.25 0 0 0 480.91 186.25Z" fill="#e51e10" stroke="none"/><circle cx="480.91" cy="182.00" r="4.25" stroke-width="1.2"/><path d="M476.66 182.00H485.16" stroke-width="1.35"/></g>
<g stroke="#e51e10" fill="none"><path d="M498.64 198.00L502.89 198.00A4.25 4.25 0 0 0 498.64 193.75ZM498.64 198.00L498.64 193.75A4.25 4.25 0 0 0 494.39 198.00ZM498.64 198.00L494.39 198.00A4.25 4.25 0 0 0 498.64 202.25Z" fill="#e51e10" stroke="none"/><circle cx="498.64" cy="198.00" r="4.25" stroke-width="1.2"/><path d="M494.39 198.00H502.89" stroke-width="1.35"/></g>
<g stroke="#e51e10" fill="none"><path d="M516.36 211.40L520.61 211.40A4.25 4.25 0 0 0 516.36 207.15ZM516.36 211.40L516.36 207.15A4.25 4.25 0 0 0 512.11 211.40ZM516.36 211.40L512.11 211.40A4.25 4.25 0 0 0 516.36 215.65Z" fill="#e51e10" stroke="none"/><circle cx="516.36" cy="211.40" r="4.25" stroke-width="1.2"/><path d="M512.11 211.40H520.61" stroke-width="1.35"/></g>
<g stroke="#000000" fill="none"><path d="M77.97 29.00L77.97 33.25A4.25 4.25 0 0 0 82.22 29.00Z" fill="#000000" stroke="none"/><circle cx="77.97" cy="29.00" r="4.25" stroke-width="1.2"/><path d="M73.72 29.00H82.22M77.97 29.00V33.25" stroke-width="1.35"/></g>
<g stroke="#000000" fill="none"><path d="M92.15 29.20L92.15 33.45A4.25 4.25 0 0 0 96.40 29.20Z" fill="#000000" stroke="none"/><circle cx="92.15" cy="29.20" r="4.25" stroke-width="1.2"/><path d="M87.90 29.20H96.40M92.15 29.20V33.45" stroke-width="1.35"/></g>
<g stroke="#000000" fill="none"><path d="M106.33 29.20L106.33 33.45A4.25 4.25 0 0 0 110.58 29.20Z" fill="#000000" stroke="none"/><circle cx="106.33" cy="29.20" r="4.25" stroke-width="1.2"/><path d="M102.08 29.20H110.58M106.33 29.20V33.45" stroke-width="1.35"/></g>
<g stroke="#000000" fill="none"><path d="M120.51 29.30L120.51 33.55A4.25 4.25 0 0 0 124.76 29.30Z" fill="#000000" stroke="none"/><circle cx="120.51" cy="29.30" r="4.25" stroke-width="1.2"/><path d="M116.26 29.30H124.76M120.51 29.30V33.55" stroke-width="1.35"/></g>
<g stroke="#000000" fill="none"><path d="M134.69 29.20L134.69 33.45A4.25 4.25 0 0 0 138.94 29.20Z" fill="#000000" stroke="none"/><circle cx="134.69" cy="29.20" r="4.25" stroke-width="1.2"/><path d="M130.44 29.20H138.94M134.69 29.20V33.45" stroke-width="1.35"/></g>
<g stroke="#000000" fill="none"><path d="M148.87 29.50L148.87 33.75A4.25 4.25 0 0 0 153.12 29.50Z" fill="#000000" stroke="none"/><circle cx="148.87" cy="29.50" r="4.25" stroke-width="1.2"/><path d="M144.62 29.50H153.12M148.87 29.50V33.75" stroke-width="1.35"/></g>
<g stroke="#000000" fill="none"><path d="M163.05 29.40L163.05 33.65A4.25 4.25 0 0 0 167.30 29.40Z" fill="#000000" stroke="none"/><circle cx="163.05" cy="29.40" r="4.25" stroke-width="1.2"/><path d="M158.80 29.40H167.30M163.05 29.40V33.65" stroke-width="1.35"/></g>
<g stroke="#000000" fill="none"><path d="M177.23 29.80L177.23 34.05A4.25 4.25 0 0 0 181.48 29.80Z" fill="#000000" stroke="none"/><circle cx="177.23" cy="29.80" r="4.25" stroke-width="1.2"/><path d="M172.98 29.80H181.48M177.23 29.80V34.05" stroke-width="1.35"/></g>
<g stroke="#000000" fill="none"><path d="M191.41 30.60L191.41 34.85A4.25 4.25 0 0 0 195.66 30.60Z" fill="#000000" stroke="none"/><circle cx="191.41" cy="30.60" r="4.25" stroke-width="1.2"/><path d="M187.16 30.60H195.66M191.41 30.60V34.85" stroke-width="1.35"/></g>
<g stroke="#000000" fill="none"><path d="M205.59 32.40L205.59 36.65A4.25 4.25 0 0 0 209.84 32.40Z" fill="#000000" stroke="none"/><circle cx="205.59" cy="32.40" r="4.25" stroke-width="1.2"/><path d="M201.34 32.40H209.84M205.59 32.40V36.65" stroke-width="1.35"/></g>
<g stroke="#000000" fill="none"><path d="M219.77 33.30L219.77 37.55A4.25 4.25 0 0 0 224.02 33.30Z" fill="#000000" stroke="none"/><circle cx="219.77" cy="33.30" r="4.25" stroke-width="1.2"/><path d="M215.52 33.30H224.02M219.77 33.30V37.55" stroke-width="1.35"/></g>
<g stroke="#000000" fill="none"><path d="M233.95 33.60L233.95 37.85A4.25 4.25 0 0 0 238.20 33.60Z" fill="#000000" stroke="none"/><circle cx="233.95" cy="33.60" r="4.25" stroke-width="1.2"/><path d="M229.70 33.60H238.20M233.95 33.60V37.85" stroke-width="1.35"/></g>
<g stroke="#000000" fill="none"><path d="M248.13 36.90L248.13 41.15A4.25 4.25 0 0 0 252.38 36.90Z" fill="#000000" stroke="none"/><circle cx="248.13" cy="36.90" r="4.25" stroke-width="1.2"/><path d="M243.88 36.90H252.38M248.13 36.90V41.15" stroke-width="1.35"/></g>
<g stroke="#000000" fill="none"><path d="M262.31 39.60L262.31 43.85A4.25 4.25 0 0 0 266.56 39.60Z" fill="#000000" stroke="none"/><circle cx="262.31" cy="39.60" r="4.25" stroke-width="1.2"/><path d="M258.06 39.60H266.56M262.31 39.60V43.85" stroke-width="1.35"/></g>
<g stroke="#000000" fill="none"><path d="M276.49 43.60L276.49 47.85A4.25 4.25 0 0 0 280.74 43.60Z" fill="#000000" stroke="none"/><circle cx="276.49" cy="43.60" r="4.25" stroke-width="1.2"/><path d="M272.24 43.60H280.74M276.49 43.60V47.85" stroke-width="1.35"/></g>
<g stroke="#000000" fill="none"><path d="M290.67 48.00L290.67 52.25A4.25 4.25 0 0 0 294.92 48.00Z" fill="#000000" stroke="none"/><circle cx="290.67" cy="48.00" r="4.25" stroke-width="1.2"/><path d="M286.42 48.00H294.92M290.67 48.00V52.25" stroke-width="1.35"/></g>
<g stroke="#000000" fill="none"><path d="M304.85 54.60L304.85 58.85A4.25 4.25 0 0 0 309.10 54.60Z" fill="#000000" stroke="none"/><circle cx="304.85" cy="54.60" r="4.25" stroke-width="1.2"/><path d="M300.60 54.60H309.10M304.85 54.60V58.85" stroke-width="1.35"/></g>
<g stroke="#000000" fill="none"><path d="M319.03 62.20L319.03 66.45A4.25 4.25 0 0 0 323.28 62.20Z" fill="#000000" stroke="none"/><circle cx="319.03" cy="62.20" r="4.25" stroke-width="1.2"/><path d="M314.78 62.20H323.28M319.03 62.20V66.45" stroke-width="1.35"/></g>
<g stroke="#000000" fill="none"><path d="M333.21 71.80L333.21 76.05A4.25 4.25 0 0 0 337.46 71.80Z" fill="#000000" stroke="none"/><circle cx="333.21" cy="71.80" r="4.25" stroke-width="1.2"/><path d="M328.96 71.80H337.46M333.21 71.80V76.05" stroke-width="1.35"/></g>
<g stroke="#000000" fill="none"><path d="M347.39 82.60L347.39 86.85A4.25 4.25 0 0 0 351.64 82.60Z" fill="#000000" stroke="none"/><circle cx="347.39" cy="82.60" r="4.25" stroke-width="1.2"/><path d="M343.14 82.60H351.64M347.39 82.60V86.85" stroke-width="1.35"/></g>
<g stroke="#000000" fill="none"><path d="M361.57 94.20L361.57 98.45A4.25 4.25 0 0 0 365.82 94.20Z" fill="#000000" stroke="none"/><circle cx="361.57" cy="94.20" r="4.25" stroke-width="1.2"/><path d="M357.32 94.20H365.82M361.57 94.20V98.45" stroke-width="1.35"/></g>
<g stroke="#000000" fill="none"><path d="M375.75 108.60L375.75 112.85A4.25 4.25 0 0 0 380.00 108.60Z" fill="#000000" stroke="none"/><circle cx="375.75" cy="108.60" r="4.25" stroke-width="1.2"/><path d="M371.50 108.60H380.00M375.75 108.60V112.85" stroke-width="1.35"/></g>
<g stroke="#000000" fill="none"><path d="M389.93 124.00L389.93 128.25A4.25 4.25 0 0 0 394.18 124.00Z" fill="#000000" stroke="none"/><circle cx="389.93" cy="124.00" r="4.25" stroke-width="1.2"/><path d="M385.68 124.00H394.18M389.93 124.00V128.25" stroke-width="1.35"/></g>
<g stroke="#000000" fill="none"><path d="M404.11 137.90L404.11 142.15A4.25 4.25 0 0 0 408.36 137.90Z" fill="#000000" stroke="none"/><circle cx="404.11" cy="137.90" r="4.25" stroke-width="1.2"/><path d="M399.86 137.90H408.36M404.11 137.90V142.15" stroke-width="1.35"/></g>
<g stroke="#000000" fill="none"><path d="M418.29 152.60L418.29 156.85A4.25 4.25 0 0 0 422.54 152.60Z" fill="#000000" stroke="none"/><circle cx="418.29" cy="152.60" r="4.25" stroke-width="1.2"/><path d="M414.04 152.60H422.54M418.29 152.60V156.85" stroke-width="1.35"/></g>
<g stroke="#000000" fill="none"><path d="M432.47 168.20L432.47 172.45A4.25 4.25 0 0 0 436.72 168.20Z" fill="#000000" stroke="none"/><circle cx="432.47" cy="168.20" r="4.25" stroke-width="1.2"/><path d="M428.22 168.20H436.72M432.47 168.20V172.45" stroke-width="1.35"/></g>
<g stroke="#000000" fill="none"><path d="M446.65 182.00L446.65 186.25A4.25 4.25 0 0 0 450.90 182.00Z" fill="#000000" stroke="none"/><circle cx="446.65" cy="182.00" r="4.25" stroke-width="1.2"/><path d="M442.40 182.00H450.90M446.65 182.00V186.25" stroke-width="1.35"/></g>
<g stroke="#000000" fill="none"><path d="M460.83 197.80L460.83 202.05A4.25 4.25 0 0 0 465.08 197.80Z" fill="#000000" stroke="none"/><circle cx="460.83" cy="197.80" r="4.25" stroke-width="1.2"/><path d="M456.58 197.80H465.08M460.83 197.80V202.05" stroke-width="1.35"/></g>
<g stroke="#000000" fill="none"><path d="M475.01 211.40L475.01 215.65A4.25 4.25 0 0 0 479.26 211.40Z" fill="#000000" stroke="none"/><circle cx="475.01" cy="211.40" r="4.25" stroke-width="1.2"/><path d="M470.76 211.40H479.26M475.01 211.40V215.65" stroke-width="1.35"/></g>
<g stroke="#000000" fill="none"><path d="M489.19 224.70L489.19 228.95A4.25 4.25 0 0 0 493.44 224.70Z" fill="#000000" stroke="none"/><circle cx="489.19" cy="224.70" r="4.25" stroke-width="1.2"/><path d="M484.94 224.70H493.44M489.19 224.70V228.95" stroke-width="1.35"/></g>
<g stroke="#000000" fill="none"><path d="M503.37 238.90L503.37 243.15A4.25 4.25 0 0 0 507.62 238.90Z" fill="#000000" stroke="none"/><circle cx="503.37" cy="238.90" r="4.25" stroke-width="1.2"/><path d="M499.12 238.90H507.62M503.37 238.90V243.15" stroke-width="1.35"/></g>
<g stroke="#000000" fill="none"><path d="M517.55 248.70L517.55 252.95A4.25 4.25 0 0 0 521.80 248.70Z" fill="#000000" stroke="none"/><circle cx="517.55" cy="248.70" r="4.25" stroke-width="1.2"/><path d="M513.30 248.70H521.80M517.55 248.70V252.95" stroke-width="1.35"/></g>
<g stroke="#9400d3" fill="none"><path d="M128.64 29.00L132.89 29.00A4.25 4.25 0 0 0 128.64 24.75ZM128.64 29.00L128.64 33.25A4.25 4.25 0 0 0 132.89 29.00Z" fill="#9400d3" stroke="none"/><circle cx="128.64" cy="29.00" r="4.25" stroke-width="1.2"/><path d="M124.39 29.00H132.89" stroke-width="1.35"/></g>
<g stroke="#9400d3" fill="none"><path d="M139.72 28.80L143.97 28.80A4.25 4.25 0 0 0 139.72 24.55ZM139.72 28.80L139.72 33.05A4.25 4.25 0 0 0 143.97 28.80Z" fill="#9400d3" stroke="none"/><circle cx="139.72" cy="28.80" r="4.25" stroke-width="1.2"/><path d="M135.47 28.80H143.97" stroke-width="1.35"/></g>
<g stroke="#9400d3" fill="none"><path d="M150.80 28.50L155.05 28.50A4.25 4.25 0 0 0 150.80 24.25ZM150.80 28.50L150.80 32.75A4.25 4.25 0 0 0 155.05 28.50Z" fill="#9400d3" stroke="none"/><circle cx="150.80" cy="28.50" r="4.25" stroke-width="1.2"/><path d="M146.55 28.50H155.05" stroke-width="1.35"/></g>
<g stroke="#9400d3" fill="none"><path d="M161.87 28.50L166.12 28.50A4.25 4.25 0 0 0 161.87 24.25ZM161.87 28.50L161.87 32.75A4.25 4.25 0 0 0 166.12 28.50Z" fill="#9400d3" stroke="none"/><circle cx="161.87" cy="28.50" r="4.25" stroke-width="1.2"/><path d="M157.62 28.50H166.12" stroke-width="1.35"/></g>
<g stroke="#9400d3" fill="none"><path d="M172.95 28.60L177.20 28.60A4.25 4.25 0 0 0 172.95 24.35ZM172.95 28.60L172.95 32.85A4.25 4.25 0 0 0 177.20 28.60Z" fill="#9400d3" stroke="none"/><circle cx="172.95" cy="28.60" r="4.25" stroke-width="1.2"/><path d="M168.70 28.60H177.20" stroke-width="1.35"/></g>
<g stroke="#9400d3" fill="none"><path d="M184.03 28.60L188.28 28.60A4.25 4.25 0 0 0 184.03 24.35ZM184.03 28.60L184.03 32.85A4.25 4.25 0 0 0 188.28 28.60Z" fill="#9400d3" stroke="none"/><circle cx="184.03" cy="28.60" r="4.25" stroke-width="1.2"/><path d="M179.78 28.60H188.28" stroke-width="1.35"/></g>
<g stroke="#9400d3" fill="none"><path d="M195.11 29.00L199.36 29.00A4.25 4.25 0 0 0 195.11 24.75ZM195.11 29.00L195.11 33.25A4.25 4.25 0 0 0 199.36 29.00Z" fill="#9400d3" stroke="none"/><circle cx="195.11" cy="29.00" r="4.25" stroke-width="1.2"/><path d="M190.86 29.00H199.36" stroke-width="1.35"/></g>
<g stroke="#9400d3" fill="none"><path d="M206.19 29.70L210.44 29.70A4.25 4.25 0 0 0 206.19 25.45ZM206.19 29.70L206.19 33.95A4.25 4.25 0 0 0 210.44 29.70Z" fill="#9400d3" stroke="none"/><circle cx="206.19" cy="29.70" r="4.25" stroke-width="1.2"/><path d="M201.94 29.70H210.44" stroke-width="1.35"/></g>
<g stroke="#9400d3" fill="none"><path d="M217.26 30.30L221.51 30.30A4.25 4.25 0 0 0 217.26 26.05ZM217.26 30.30L217.26 34.55A4.25 4.25 0 0 0 221.51 30.30Z" fill="#9400d3" stroke="none"/><circle cx="217.26" cy="30.30" r="4.25" stroke-width="1.2"/><path d="M213.01 30.30H221.51" stroke-width="1.35"/></g>
<g stroke="#9400d3" fill="none"><path d="M228.34 31.50L232.59 31.50A4.25 4.25 0 0 0 228.34 27.25ZM228.34 31.50L228.34 35.75A4.25 4.25 0 0 0 232.59 31.50Z" fill="#9400d3" stroke="none"/><circle cx="228.34" cy="31.50" r="4.25" stroke-width="1.2"/><path d="M224.09 31.50H232.59" stroke-width="1.35"/></g>
<g stroke="#9400d3" fill="none"><path d="M239.42 32.70L243.67 32.70A4.25 4.25 0 0 0 239.42 28.45ZM239.42 32.70L239.42 36.95A4.25 4.25 0 0 0 243.67 32.70Z" fill="#9400d3" stroke="none"/><circle cx="239.42" cy="32.70" r="4.25" stroke-width="1.2"/><path d="M235.17 32.70H243.67" stroke-width="1.35"/></g>
<g stroke="#9400d3" fill="none"><path d="M250.50 34.00L254.75 34.00A4.25 4.25 0 0 0 250.50 29.75ZM250.50 34.00L250.50 38.25A4.25 4.25 0 0 0 254.75 34.00Z" fill="#9400d3" stroke="none"/><circle cx="250.50" cy="34.00" r="4.25" stroke-width="1.2"/><path d="M246.25 34.00H254.75" stroke-width="1.35"/></g>
<g stroke="#9400d3" fill="none"><path d="M261.58 36.30L265.83 36.30A4.25 4.25 0 0 0 261.58 32.05ZM261.58 36.30L261.58 40.55A4.25 4.25 0 0 0 265.83 36.30Z" fill="#9400d3" stroke="none"/><circle cx="261.58" cy="36.30" r="4.25" stroke-width="1.2"/><path d="M257.33 36.30H265.83" stroke-width="1.35"/></g>
<g stroke="#9400d3" fill="none"><path d="M272.65 39.20L276.90 39.20A4.25 4.25 0 0 0 272.65 34.95ZM272.65 39.20L272.65 43.45A4.25 4.25 0 0 0 276.90 39.20Z" fill="#9400d3" stroke="none"/><circle cx="272.65" cy="39.20" r="4.25" stroke-width="1.2"/><path d="M268.40 39.20H276.90" stroke-width="1.35"/></g>
<g stroke="#9400d3" fill="none"><path d="M283.73 42.10L287.98 42.10A4.25 4.25 0 0 0 283.73 37.85ZM283.73 42.10L283.73 46.35A4.25 4.25 0 0 0 287.98 42.10Z" fill="#9400d3" stroke="none"/><circle cx="283.73" cy="42.10" r="4.25" stroke-width="1.2"/><path d="M279.48 42.10H287.98" stroke-width="1.35"/></g>
<g stroke="#9400d3" fill="none"><path d="M294.81 48.00L299.06 48.00A4.25 4.25 0 0 0 294.81 43.75ZM294.81 48.00L294.81 52.25A4.25 4.25 0 0 0 299.06 48.00Z" fill="#9400d3" stroke="none"/><circle cx="294.81" cy="48.00" r="4.25" stroke-width="1.2"/><path d="M290.56 48.00H299.06" stroke-width="1.35"/></g>
<g stroke="#9400d3" fill="none"><path d="M305.89 54.20L310.14 54.20A4.25 4.25 0 0 0 305.89 49.95ZM305.89 54.20L305.89 58.45A4.25 4.25 0 0 0 310.14 54.20Z" fill="#9400d3" stroke="none"/><circle cx="305.89" cy="54.20" r="4.25" stroke-width="1.2"/><path d="M301.64 54.20H310.14" stroke-width="1.35"/></g>
<g stroke="#9400d3" fill="none"><path d="M316.97 62.10L321.22 62.10A4.25 4.25 0 0 0 316.97 57.85ZM316.97 62.10L316.97 66.35A4.25 4.25 0 0 0 321.22 62.10Z" fill="#9400d3" stroke="none"/><circle cx="316.97" cy="62.10" r="4.25" stroke-width="1.2"/><path d="M312.72 62.10H321.22" stroke-width="1.35"/></g>
<g stroke="#9400d3" fill="none"><path d="M328.05 71.50L332.30 71.50A4.25 4.25 0 0 0 328.05 67.25ZM328.05 71.50L328.05 75.75A4.25 4.25 0 0 0 332.30 71.50Z" fill="#9400d3" stroke="none"/><circle cx="328.05" cy="71.50" r="4.25" stroke-width="1.2"/><path d="M323.80 71.50H332.30" stroke-width="1.35"/></g>
<g stroke="#9400d3" fill="none"><path d="M339.12 82.50L343.37 82.50A4.25 4.25 0 0 0 339.12 78.25ZM339.12 82.50L339.12 86.75A4.25 4.25 0 0 0 343.37 82.50Z" fill="#9400d3" stroke="none"/><circle cx="339.12" cy="82.50" r="4.25" stroke-width="1.2"/><path d="M334.87 82.50H343.37" stroke-width="1.35"/></g>
<g stroke="#9400d3" fill="none"><path d="M350.20 95.10L354.45 95.10A4.25 4.25 0 0 0 350.20 90.85ZM350.20 95.10L350.20 99.35A4.25 4.25 0 0 0 354.45 95.10Z" fill="#9400d3" stroke="none"/><circle cx="350.20" cy="95.10" r="4.25" stroke-width="1.2"/><path d="M345.95 95.10H354.45" stroke-width="1.35"/></g>
<g stroke="#9400d3" fill="none"><path d="M361.28 108.90L365.53 108.90A4.25 4.25 0 0 0 361.28 104.65ZM361.28 108.90L361.28 113.15A4.25 4.25 0 0 0 365.53 108.90Z" fill="#9400d3" stroke="none"/><circle cx="361.28" cy="108.90" r="4.25" stroke-width="1.2"/><path d="M357.03 108.90H365.53" stroke-width="1.35"/></g>
<g stroke="#9400d3" fill="none"><path d="M372.36 123.30L376.61 123.30A4.25 4.25 0 0 0 372.36 119.05ZM372.36 123.30L372.36 127.55A4.25 4.25 0 0 0 376.61 123.30Z" fill="#9400d3" stroke="none"/><circle cx="372.36" cy="123.30" r="4.25" stroke-width="1.2"/><path d="M368.11 123.30H376.61" stroke-width="1.35"/></g>
<g stroke="#9400d3" fill="none"><path d="M383.44 136.90L387.69 136.90A4.25 4.25 0 0 0 383.44 132.65ZM383.44 136.90L383.44 141.15A4.25 4.25 0 0 0 387.69 136.90Z" fill="#9400d3" stroke="none"/><circle cx="383.44" cy="136.90" r="4.25" stroke-width="1.2"/><path d="M379.19 136.90H387.69" stroke-width="1.35"/></g>
<g stroke="#9400d3" fill="none"><path d="M394.51 152.60L398.76 152.60A4.25 4.25 0 0 0 394.51 148.35ZM394.51 152.60L394.51 156.85A4.25 4.25 0 0 0 398.76 152.60Z" fill="#9400d3" stroke="none"/><circle cx="394.51" cy="152.60" r="4.25" stroke-width="1.2"/><path d="M390.26 152.60H398.76" stroke-width="1.35"/></g>
<g stroke="#9400d3" fill="none"><path d="M405.59 168.00L409.84 168.00A4.25 4.25 0 0 0 405.59 163.75ZM405.59 168.00L405.59 172.25A4.25 4.25 0 0 0 409.84 168.00Z" fill="#9400d3" stroke="none"/><circle cx="405.59" cy="168.00" r="4.25" stroke-width="1.2"/><path d="M401.34 168.00H409.84" stroke-width="1.35"/></g>
<g stroke="#9400d3" fill="none"><path d="M416.67 183.80L420.92 183.80A4.25 4.25 0 0 0 416.67 179.55ZM416.67 183.80L416.67 188.05A4.25 4.25 0 0 0 420.92 183.80Z" fill="#9400d3" stroke="none"/><circle cx="416.67" cy="183.80" r="4.25" stroke-width="1.2"/><path d="M412.42 183.80H420.92" stroke-width="1.35"/></g>
<g stroke="#9400d3" fill="none"><path d="M427.75 197.70L432.00 197.70A4.25 4.25 0 0 0 427.75 193.45ZM427.75 197.70L427.75 201.95A4.25 4.25 0 0 0 432.00 197.70Z" fill="#9400d3" stroke="none"/><circle cx="427.75" cy="197.70" r="4.25" stroke-width="1.2"/><path d="M423.50 197.70H432.00" stroke-width="1.35"/></g>
<g stroke="#9400d3" fill="none"><path d="M438.83 211.50L443.08 211.50A4.25 4.25 0 0 0 438.83 207.25ZM438.83 211.50L438.83 215.75A4.25 4.25 0 0 0 443.08 211.50Z" fill="#9400d3" stroke="none"/><circle cx="438.83" cy="211.50" r="4.25" stroke-width="1.2"/><path d="M434.58 211.50H443.08" stroke-width="1.35"/></g>
<g stroke="#9400d3" fill="none"><path d="M449.90 225.60L454.15 225.60A4.25 4.25 0 0 0 449.90 221.35ZM449.90 225.60L449.90 229.85A4.25 4.25 0 0 0 454.15 225.60Z" fill="#9400d3" stroke="none"/><circle cx="449.90" cy="225.60" r="4.25" stroke-width="1.2"/><path d="M445.65 225.60H454.15" stroke-width="1.35"/></g>
<g stroke="#9400d3" fill="none"><path d="M460.98 237.50L465.23 237.50A4.25 4.25 0 0 0 460.98 233.25ZM460.98 237.50L460.98 241.75A4.25 4.25 0 0 0 465.23 237.50Z" fill="#9400d3" stroke="none"/><circle cx="460.98" cy="237.50" r="4.25" stroke-width="1.2"/><path d="M456.73 237.50H465.23" stroke-width="1.35"/></g>
<g stroke="#9400d3" fill="none"><path d="M472.06 248.70L476.31 248.70A4.25 4.25 0 0 0 472.06 244.45ZM472.06 248.70L472.06 252.95A4.25 4.25 0 0 0 476.31 248.70Z" fill="#9400d3" stroke="none"/><circle cx="472.06" cy="248.70" r="4.25" stroke-width="1.2"/><path d="M467.81 248.70H476.31" stroke-width="1.35"/></g>
<g stroke="#9400d3" fill="none"><path d="M483.14 260.50L487.39 260.50A4.25 4.25 0 0 0 483.14 256.25ZM483.14 260.50L483.14 264.75A4.25 4.25 0 0 0 487.39 260.50Z" fill="#9400d3" stroke="none"/><circle cx="483.14" cy="260.50" r="4.25" stroke-width="1.2"/><path d="M478.89 260.50H487.39" stroke-width="1.35"/></g>
<g stroke="#9400d3" fill="none"><path d="M494.22 271.30L498.47 271.30A4.25 4.25 0 0 0 494.22 267.05ZM494.22 271.30L494.22 275.55A4.25 4.25 0 0 0 498.47 271.30Z" fill="#9400d3" stroke="none"/><circle cx="494.22" cy="271.30" r="4.25" stroke-width="1.2"/><path d="M489.97 271.30H498.47" stroke-width="1.35"/></g>
<g stroke="#9400d3" fill="none"><path d="M505.30 281.10L509.55 281.10A4.25 4.25 0 0 0 505.30 276.85ZM505.30 281.10L505.30 285.35A4.25 4.25 0 0 0 509.55 281.10Z" fill="#9400d3" stroke="none"/><circle cx="505.30" cy="281.10" r="4.25" stroke-width="1.2"/><path d="M501.05 281.10H509.55" stroke-width="1.35"/></g>
<g stroke="#9400d3" fill="none"><path d="M516.37 290.60L520.62 290.60A4.25 4.25 0 0 0 516.37 286.35ZM516.37 290.60L516.37 294.85A4.25 4.25 0 0 0 520.62 290.60Z" fill="#9400d3" stroke="none"/><circle cx="516.37" cy="290.60" r="4.25" stroke-width="1.2"/><path d="M512.12 290.60H520.62" stroke-width="1.35"/></g>
<path d="M74.0 341.0v-4.5M74.0 29.0v4.5M74.0 29.0h4.5M518.0 29.0h-4.5M148.0 341.0v-4.5M148.0 29.0v4.5M74.0 81.0h4.5M518.0 81.0h-4.5M222.0 341.0v-4.5M222.0 29.0v4.5M74.0 133.0h4.5M518.0 133.0h-4.5M296.0 341.0v-4.5M296.0 29.0v4.5M74.0 185.0h4.5M518.0 185.0h-4.5M370.0 341.0v-4.5M370.0 29.0v4.5M74.0 237.0h4.5M518.0 237.0h-4.5M444.0 341.0v-4.5M444.0 29.0v4.5M74.0 289.0h4.5M518.0 289.0h-4.5M518.0 341.0v-4.5M518.0 29.0v4.5M74.0 341.0h4.5M518.0 341.0h-4.5" stroke="#000" stroke-width="1.4" fill="none"/>
<rect x="74.0" y="29.0" width="444.0" height="312.0" fill="none" stroke="#000" stroke-width="1.7"/>
<g opacity="0.999">
<text x="74.0" y="363.3" text-anchor="middle">2.266</text><text x="148.0" y="363.3" text-anchor="middle">2.267</text><text x="222.0" y="363.3" text-anchor="middle">2.268</text><text x="296.0" y="363.3" text-anchor="middle">2.269</text><text x="370.0" y="363.3" text-anchor="middle">2.27</text><text x="444.0" y="363.3" text-anchor="middle">2.271</text><text x="518.0" y="363.3" text-anchor="middle">2.272</text>
<text x="63.6" y="34.9" text-anchor="end">1</text><text x="63.6" y="86.9" text-anchor="end">0.9</text><text x="63.6" y="138.9" text-anchor="end">0.8</text><text x="63.6" y="190.9" text-anchor="end">0.7</text><text x="63.6" y="242.9" text-anchor="end">0.6</text><text x="63.6" y="294.9" text-anchor="end">0.5</text><text x="63.6" y="346.9" text-anchor="end">0.4</text>
<text transform="translate(295.2,388.2) scale(1.22,1)" x="0" y="0" text-anchor="middle" font-style="italic">T</text>
<text x="480" y="54.6" style="font-size:25px;stroke:#000;stroke-width:0.35px">(</text>
<text transform="translate(494.2,55) scale(1.06,1)" text-anchor="middle" font-weight="bold" style="font-size:22.5px;stroke-width:0.1px">c</text>
<text x="508.2" y="54.6" text-anchor="end" style="font-size:25px;stroke:#000;stroke-width:0.35px">)</text>
<g transform="translate(24.8,202.2) rotate(-90)">
<text x="0" y="0" font-style="italic" style="font-size:22.5px">R</text>
<text x="17" y="3.8" font-style="italic" style="font-size:16px;stroke-width:0.1px">x</text>
<text x="17.2" y="-9.6" style="font-size:16px;stroke-width:0.1px">(s)</text>
</g>
</g>
</svg>
</body></html>
